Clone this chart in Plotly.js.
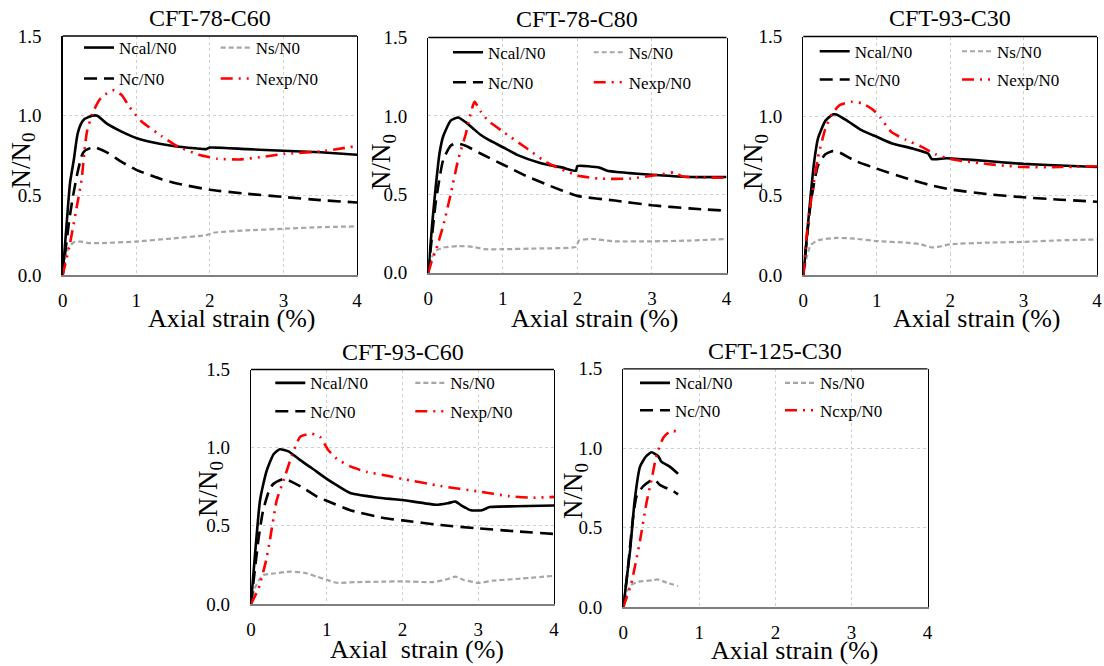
<!DOCTYPE html>
<html>
<head>
<meta charset="utf-8">
<script src="https://cdn.plot.ly/plotly-3.0.1.min.js"></script>
<style>
html,body{margin:0;padding:0;background:#fff;}
#chart{width:1104px;height:666px;}
#chart svg text{font-family:"Liberation Serif","Times New Roman",serif !important;}
</style>
</head>
<body>
<div id="chart"></div>
<script>
// ---------- Panel titles ----------
const panelTitles = ['CFT-78-C60', 'CFT-78-C80', 'CFT-93-C30', 'CFT-93-C60', 'CFT-125-C30'];
const seriesNames = ['Ncal/N0', 'Ns/N0', 'Nc/N0', 'Nexp/N0'];
const seriesNamesP5 = ['Ncal/N0', 'Ns/N0', 'Nc/N0', 'Ncxp/N0'];
const xTitleText = ['Axial strain (%)', 'Axial strain (%)', 'Axial strain (%)', 'Axial\u00a0 strain (%)', 'Axial strain (%)'];
const yTitleText = 'N/N<sub>0</sub>';
const xTickVals = [0, 1, 2, 3, 4];
const yTickVals = [0, 0.5, 1.0, 1.5];

// ---------- CFT-78-C60 ----------
const p1NcalX = [0, 0.05, 0.1, 0.15, 0.2, 0.25, 0.3, 0.4, 0.47, 0.6, 0.8, 1.0, 1.2, 1.5, 1.8, 1.95, 2.0, 2.5, 3.0, 3.5, 4.0];
const p1NcalY = [0, 0.3, 0.58, 0.72, 0.88, 0.95, 0.98, 1.0, 1.0, 0.95, 0.9, 0.86, 0.835, 0.81, 0.795, 0.79, 0.8, 0.79, 0.78, 0.77, 0.755];
const p1NcX = [0, 0.05, 0.1, 0.15, 0.2, 0.26, 0.3, 0.4, 0.45, 0.6, 0.8, 1.0, 1.35, 1.6, 2.0, 2.5, 3.0, 3.5, 4.0];
const p1NcY = [0, 0.2, 0.38, 0.52, 0.64, 0.75, 0.78, 0.8, 0.8, 0.77, 0.71, 0.66, 0.6, 0.57, 0.535, 0.51, 0.49, 0.47, 0.455];
const p1NsX = [0, 0.03, 0.08, 0.15, 0.25, 0.35, 0.5, 1.0, 1.5, 1.95, 2.05, 2.5, 3.0, 3.5, 4.0];
const p1NsY = [0, 0.1, 0.17, 0.205, 0.21, 0.2, 0.2, 0.21, 0.23, 0.25, 0.265, 0.28, 0.29, 0.3, 0.305];
const p1NexpX = [0, 0.1, 0.2, 0.26, 0.3, 0.33, 0.4, 0.5, 0.6, 0.7, 0.8, 0.9, 1.0, 1.08, 1.35, 1.57, 1.85, 2.1, 2.4, 2.7, 3.0, 3.5, 4.0];
const p1NexpY = [0, 0.2, 0.45, 0.61, 0.8, 0.9, 1.01, 1.1, 1.14, 1.16, 1.13, 1.06, 1.0, 0.96, 0.87, 0.805, 0.755, 0.73, 0.725, 0.74, 0.76, 0.775, 0.81];

// ---------- CFT-78-C80 ----------
const p2NcalX = [0, 0.05, 0.1, 0.15, 0.2, 0.3, 0.4, 0.5, 0.6, 0.7, 0.8, 1.0, 1.2, 1.5, 1.8, 1.98, 2.0, 2.3, 2.4, 2.7, 3.0, 3.5, 4.0];
const p2NcalY = [0, 0.3, 0.55, 0.76, 0.87, 0.97, 0.99, 0.96, 0.92, 0.88, 0.85, 0.8, 0.75, 0.7, 0.67, 0.65, 0.68, 0.67, 0.65, 0.635, 0.625, 0.61, 0.61];
const p2NcX = [0, 0.1, 0.2, 0.3, 0.38, 0.5, 0.7, 1.0, 1.3, 1.6, 2.0, 2.5, 3.0, 3.5, 4.0];
const p2NcY = [0, 0.45, 0.72, 0.81, 0.825, 0.81, 0.76, 0.69, 0.62, 0.56, 0.49, 0.46, 0.43, 0.41, 0.395];
const p2NsX = [0, 0.05, 0.1, 0.2, 0.4, 0.6, 0.75, 1.0, 1.5, 1.98, 2.02, 2.2, 2.5, 3.0, 3.5, 4.0];
const p2NsY = [0, 0.1, 0.14, 0.16, 0.17, 0.165, 0.15, 0.15, 0.155, 0.165, 0.205, 0.215, 0.2, 0.2, 0.205, 0.215];
const p2NexpX = [0, 0.05, 0.1, 0.2, 0.3, 0.4, 0.5, 0.55, 0.62, 0.7, 0.8, 1.0, 1.3, 1.6, 2.0, 2.3, 2.7, 3.1, 3.3, 3.4, 4.0];
const p2NexpY = [0, 0.08, 0.14, 0.3, 0.5, 0.72, 0.88, 0.98, 1.09, 1.03, 0.97, 0.9, 0.8, 0.7, 0.62, 0.6, 0.6, 0.625, 0.64, 0.615, 0.605];

// ---------- CFT-93-C30 ----------
const p3NcalX = [0, 0.05, 0.1, 0.15, 0.2, 0.3, 0.4, 0.45, 0.6, 0.8, 1.0, 1.2, 1.5, 1.7, 1.75, 1.95, 2.3, 2.7, 3.0, 3.5, 4.0];
const p3NcalY = [0, 0.25, 0.5, 0.72, 0.86, 0.97, 1.01, 1.01, 0.97, 0.91, 0.87, 0.83, 0.795, 0.765, 0.73, 0.735, 0.725, 0.71, 0.7, 0.69, 0.68];
const p3NcX = [0, 0.1, 0.2, 0.3, 0.4, 0.5, 0.7, 1.0, 1.4, 1.7, 2.0, 2.5, 3.0, 3.5, 4.0];
const p3NcY = [0, 0.45, 0.69, 0.76, 0.78, 0.77, 0.72, 0.67, 0.61, 0.57, 0.54, 0.51, 0.49, 0.475, 0.462];
const p3NsX = [0, 0.05, 0.1, 0.2, 0.45, 0.7, 1.0, 1.4, 1.6, 1.75, 1.85, 2.0, 2.5, 3.0, 3.5, 4.0];
const p3NsY = [0, 0.12, 0.19, 0.22, 0.235, 0.23, 0.215, 0.205, 0.195, 0.175, 0.18, 0.195, 0.205, 0.21, 0.22, 0.225];
const p3NexpX = [0, 0.05, 0.1, 0.2, 0.3, 0.4, 0.5, 0.65, 0.8, 0.95, 1.05, 1.2, 1.4, 1.6, 1.8, 2.0, 2.3, 2.7, 3.0, 3.5, 4.0];
const p3NexpY = [0, 0.27, 0.45, 0.74, 0.92, 1.02, 1.07, 1.09, 1.08, 1.04, 0.99, 0.9, 0.85, 0.81, 0.76, 0.73, 0.71, 0.69, 0.68, 0.68, 0.685];

// ---------- CFT-93-C60 ----------
const p4NcalX = [0, 0.05, 0.1, 0.12, 0.15, 0.21, 0.3, 0.38, 0.5, 0.65, 0.8, 1.0, 1.13, 1.31, 1.75, 2.0, 2.45, 2.6, 2.7, 2.78, 2.9, 3.05, 3.15, 3.5, 4.0];
const p4NcalY = [0, 0.3, 0.58, 0.665, 0.74, 0.857, 0.96, 0.99, 0.975, 0.92, 0.87, 0.8, 0.76, 0.71, 0.676, 0.665, 0.635, 0.645, 0.655, 0.63, 0.6, 0.6, 0.62, 0.625, 0.63];
const p4NcX = [0, 0.1, 0.16, 0.25, 0.3, 0.43, 0.5, 0.7, 0.87, 1.0, 1.31, 1.75, 2.0, 2.5, 3.0, 3.5, 4.0];
const p4NcY = [0, 0.42, 0.6, 0.74, 0.77, 0.8, 0.79, 0.74, 0.687, 0.66, 0.6, 0.55, 0.535, 0.505, 0.484, 0.465, 0.448];
const p4NsX = [0, 0.05, 0.1, 0.16, 0.3, 0.52, 0.7, 0.87, 1.0, 1.13, 1.4, 1.75, 2.0, 2.4, 2.6, 2.7, 2.8, 3.0, 3.2, 3.5, 4.0];
const p4NsY = [0, 0.1, 0.15, 0.185, 0.195, 0.207, 0.2, 0.175, 0.155, 0.136, 0.14, 0.143, 0.145, 0.14, 0.16, 0.175, 0.155, 0.135, 0.15, 0.16, 0.18];
const p4NexpX = [0, 0.1, 0.2, 0.25, 0.34, 0.43, 0.54, 0.65, 0.8, 0.91, 1.02, 1.13, 1.31, 1.53, 1.8, 2.0, 2.5, 3.0, 3.4, 3.7, 4.0];
const p4NexpY = [0, 0.1, 0.28, 0.41, 0.665, 0.79, 0.95, 1.07, 1.09, 1.07, 0.985, 0.93, 0.88, 0.845, 0.82, 0.8, 0.755, 0.72, 0.69, 0.68, 0.685];

// ---------- CFT-125-C30 ----------
const p5NcalX = [0, 0.05, 0.09, 0.15, 0.22, 0.3, 0.37, 0.46, 0.5, 0.61, 0.72];
const p5NcalY = [0, 0.2, 0.36, 0.675, 0.885, 0.95, 0.975, 0.95, 0.916, 0.885, 0.84];
const p5NcX = [0, 0.05, 0.13, 0.175, 0.26, 0.37, 0.42, 0.48, 0.66, 0.72];
const p5NcY = [0, 0.2, 0.57, 0.7, 0.76, 0.8, 0.8, 0.77, 0.73, 0.71];
const p5NsX = [0, 0.05, 0.1, 0.2, 0.39, 0.45, 0.57, 0.72];
const p5NsY = [0, 0.1, 0.14, 0.16, 0.17, 0.175, 0.155, 0.134];
const p5NexpX = [0, 0.05, 0.1, 0.15, 0.22, 0.31, 0.37, 0.42, 0.46, 0.53, 0.61, 0.66, 0.72];
const p5NexpY = [0, 0.07, 0.14, 0.25, 0.42, 0.67, 0.8, 0.92, 0.99, 1.07, 1.105, 1.11, 1.1];

const panelData = [
  {ncal:[p1NcalX,p1NcalY], nc:[p1NcX,p1NcY], ns:[p1NsX,p1NsY], nexp:[p1NexpX,p1NexpY]},
  {ncal:[p2NcalX,p2NcalY], nc:[p2NcX,p2NcY], ns:[p2NsX,p2NsY], nexp:[p2NexpX,p2NexpY]},
  {ncal:[p3NcalX,p3NcalY], nc:[p3NcX,p3NcY], ns:[p3NsX,p3NsY], nexp:[p3NexpX,p3NexpY]},
  {ncal:[p4NcalX,p4NcalY], nc:[p4NcX,p4NcY], ns:[p4NsX,p4NsY], nexp:[p4NexpX,p4NexpY]},
  {ncal:[p5NcalX,p5NcalY], nc:[p5NcX,p5NcY], ns:[p5NsX,p5NsY], nexp:[p5NexpX,p5NexpY]}
];

// ---------- Layout geometry (pixels in 1104x666 canvas) ----------
const W = 1104, H = 666;
const boxes = [ // left, right, top, bottom
  [62.7, 357, 36, 275],
  [428.3, 726.5, 37.5, 272.7],
  [803.3, 1097, 36.5, 275.3],
  [251, 554, 369.5, 604],
  [623.3, 927.5, 368.8, 607.3]
];
const legendLineStart = [77, 446, 812.7, 268.3, 633];
const legendColStep = [131.7, 135.7, 137.3, 135, 140];
const legendRows = [[48, 79], [52.7, 82.7], [51.7, 80], [383.3, 411.7], [383.3, 410.7]];
const xTitlePos = [[231.7, 318], [594.7, 318], [976.7, 318], [416.7, 649.5], [794.5, 650]];
const yTitlePos = [[22.5, 161], [383, 162], [755, 162], [210, 489], [575, 491]];

const FONT = 'serif';
const styles = {
  ncal: {color: '#000000', width: 2.6, dash: 'solid'},
  ns:   {color: '#a6a6a6', width: 2.2, dash: '5px,3px'},
  nc:   {color: '#000000', width: 2.6, dash: '13px,7px'},
  nexp: {color: '#ff0000', width: 2.6, dash: '12px,6px,2px,6px,2px,6px'}
};

const traces = [];
const layout = {
  width: W, height: H,
  margin: {l: 0, r: 0, t: 0, b: 0},
  paper_bgcolor: '#ffffff', plot_bgcolor: '#ffffff',
  font: {family: FONT, color: '#000'},
  showlegend: true,
  annotations: [], shapes: []
};

panelData.forEach((pd, i) => {
  const n = i + 1;
  const xa = n === 1 ? 'x' : 'x' + n;
  const ya = n === 1 ? 'y' : 'y' + n;
  const lg1 = i === 0 ? 'legend' : 'legend' + (2 * i + 1);
  const lg2 = 'legend' + (2 * i + 2);
  const names = i === 4 ? seriesNamesP5 : seriesNames;
  const order = [['ns', 1, lg1, 2], ['nc', 2, lg2, 3], ['ncal', 0, lg1, 1], ['nexp', 3, lg2, 4]];
  order.forEach(([key, ni, lg, rank]) => {
    traces.push({
      type: 'scatter', mode: 'lines',
      x: pd[key][0], y: pd[key][1],
      xaxis: xa, yaxis: ya,
      name: names[ni], legend: lg, legendrank: rank,
      line: {color: styles[key].color, width: styles[key].width, dash: styles[key].dash, shape: 'spline', smoothing: 0.5},
      hoverinfo: 'skip'
    });
  });
  const [L, R, T, B] = boxes[i];
  const xKey = n === 1 ? 'xaxis' : 'xaxis' + n;
  const yKey = n === 1 ? 'yaxis' : 'yaxis' + n;
  layout[xKey] = {
    domain: [L / W, R / W], anchor: ya, range: [0, 4],
    tickvals: xTickVals, ticktext: xTickVals.map(String),
    showgrid: true, gridcolor: '#d0d0d0', griddash: 'dot', gridwidth: 1,
    zeroline: false, showline: true, linecolor: '#7f7f7f', linewidth: 2, mirror: false,
    ticks: 'outside', ticklen: 7, tickcolor: 'rgba(0,0,0,0)',
    tickfont: {family: FONT, size: 19, color: '#000'},
    automargin: false, fixedrange: true
  };
  layout[yKey] = {
    domain: [1 - B / H, 1 - T / H], anchor: xa, range: [0, 1.5],
    tickvals: yTickVals, ticktext: yTickVals.map(v => v.toFixed(1)),
    showgrid: true, gridcolor: '#d0d0d0', griddash: 'dot', gridwidth: 1,
    zeroline: false, showline: true, linecolor: '#000', linewidth: 1.3, mirror: true,
    ticks: 'outside', ticklen: 16, tickcolor: 'rgba(0,0,0,0)',
    tickfont: {family: FONT, size: 19, color: '#000'},
    automargin: false, fixedrange: true
  };
  layout.shapes.push({type: 'line', xref: xa + ' domain', yref: ya + ' domain', x0: 0, x1: 1, y0: 1, y1: 1,
    line: {color: '#000', width: 1.3}});
  layout.annotations.push({
    text: panelTitles[i], xref: xa + ' domain', yref: ya + ' domain', x: 0.5, y: 1,
    xanchor: 'center', yanchor: 'middle', yshift: 18, showarrow: false,
    font: {family: FONT, size: 24, color: '#000'}
  });
  layout.annotations.push({
    text: xTitleText[i], xref: 'paper', yref: 'paper',
    x: xTitlePos[i][0] / W, y: 1 - xTitlePos[i][1] / H, xanchor: 'center', yanchor: 'middle',
    showarrow: false, font: {family: FONT, size: 26, color: '#000'}
  });
  layout.annotations.push({
    text: yTitleText, xref: 'paper', yref: 'paper', textangle: -90,
    x: yTitlePos[i][0] / W, y: 1 - yTitlePos[i][1] / H, xanchor: 'center', yanchor: 'middle',
    showarrow: false, font: {family: FONT, size: 27, color: '#000'}
  });
  const lx = (legendLineStart[i] + 2) / W;
  const ew = legendColStep[i] - 40;
  [lg1, lg2].forEach((lg, r) => {
    layout[lg] = {
      x: lx, xanchor: 'left', y: 1 - legendRows[i][r] / H, yanchor: 'middle',
      orientation: 'h', entrywidth: ew, entrywidthmode: 'pixels',
      bgcolor: 'rgba(0,0,0,0)', borderwidth: 0,
      font: {family: FONT, size: 17, color: '#000'},
      itemclick: false, itemdoubleclick: false
    };
  });
});

Plotly.newPlot('chart', traces, layout, {staticPlot: true, displayModeBar: false});
</script>
</body>
</html>
